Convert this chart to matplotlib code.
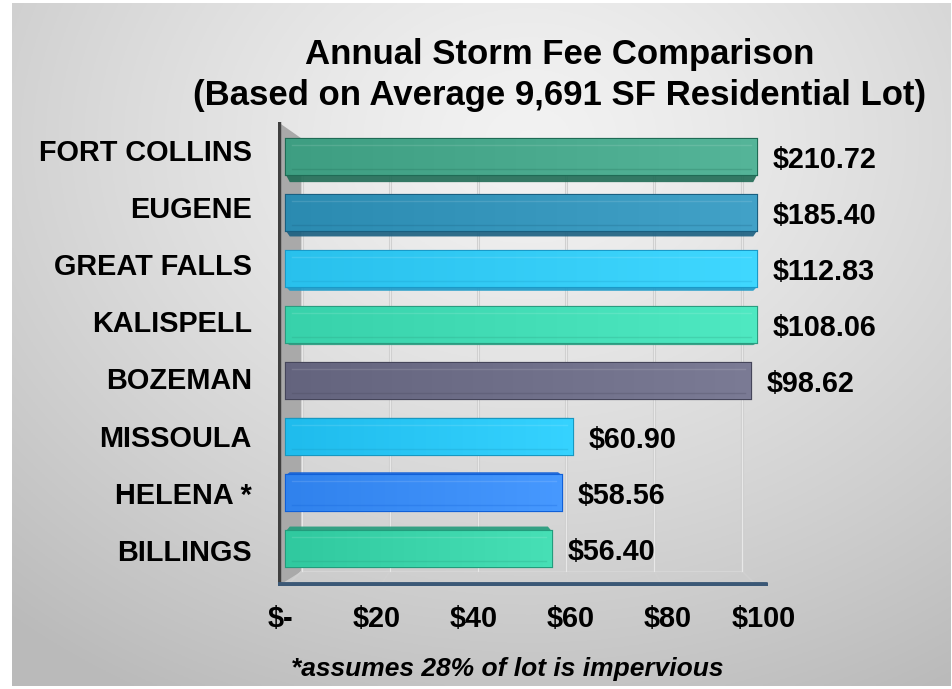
import numpy as np
import matplotlib
matplotlib.use("Agg")
import matplotlib.pyplot as plt
from matplotlib.colors import to_rgb
from matplotlib.patches import Polygon

# ---- data ----
cities = ["FORT COLLINS", "EUGENE", "GREAT FALLS", "KALISPELL", "BOZEMAN",
          "MISSOULA", "HELENA *", "BILLINGS"]
fees = [210.72, 185.40, 112.83, 108.06, 98.62, 60.90, 58.56, 56.40]
fee_labels = ["$210.72", "$185.40", "$112.83", "$108.06", "$98.62",
              "$60.90", "$58.56", "$56.40"]
tick_values = [0, 20, 40, 60, 80, 100]
tick_labels = ["$-", "$20", "$40", "$60", "$80", "$100"]
bar_colors = ["#48a88c", "#3595bb", "#33cbf7", "#42dcb5", "#6e6e88",
              "#29c6f7", "#3a8cf7", "#3ad3a9"]
edge_colors = ["#1f6b55", "#1a5f80", "#1a9ac8", "#2a9c80", "#45455a",
               "#1898c0", "#1060d8", "#239c7c"]
title = "Annual Storm Fee Comparison\n(Based on Average 9,691 SF Residential Lot)"
footnote = "*assumes 28% of lot is impervious"
XMAX = 100

W, H = 953, 689
fig = plt.figure(figsize=(W / 100, H / 100), dpi=100)
fig.patch.set_facecolor("white")

# ---- background gradient panel ----
bg = fig.add_axes([12 / W, 3 / H, (951 - 12) / W, (686 - 3) / H])
bg.set_axis_off()
yy, xx = np.mgrid[0:1:300j, 0:1:400j]
d = np.sqrt(((xx - 0.55) / 1.0) ** 2 + ((yy - 0.2) / 1.1) ** 2)
val = 0.95 - 0.22 * np.clip(d / 0.85, 0, 1) ** 1.3
bg.imshow(np.dstack([val, val, val]), aspect="auto", extent=[0, 1, 1, 0])
bg.set_xlim(0, 1)
bg.set_ylim(1, 0)

# ---- main axes ----
px_per = 4.71
x0px = 286
left_px, right_px = 278, 768
top_px, bot_px = 122, 586
y0px, dy = 157, 56
ax = fig.add_axes([left_px / W, 1 - bot_px / H, (right_px - left_px) / W, (bot_px - top_px) / H])
ax.set_xlim((left_px - x0px) / px_per, (right_px - x0px) / px_per)
ax.set_ylim((bot_px - y0px) / dy, (top_px - y0px) / dy)
ax.set_axis_off()
ax.patch.set_alpha(0)

xl = ax.get_xlim()
yl = ax.get_ylim()
n = len(cities)

# back wall / floor geometry
back_x0 = (302 - x0px) / px_per
back_scale = ((742 - x0px) / px_per - back_x0) / XMAX
back_bottom = (571 - y0px) / dy
wall_top = yl[1]
ax.add_patch(Polygon([[xl[0], wall_top], [xl[0], yl[0]], [back_x0, back_bottom],
                      [back_x0, wall_top + 0.3]], closed=True,
                     facecolor="#a9a9a9", edgecolor="none", zorder=1))
for v in tick_values:
    bx = back_x0 + v * back_scale
    ax.plot([bx, bx], [wall_top + 0.3, back_bottom], color="#cfcfcf", lw=2.2, zorder=1.2)
    ax.plot([bx, bx], [wall_top + 0.3, back_bottom], color="#e8e8e8", lw=0.8, zorder=1.3)
    ax.plot([bx, v], [back_bottom, yl[0]], color="#d0d0d0", lw=1.2, zorder=1.2)
ax.plot([back_x0, back_x0 + XMAX * back_scale], [back_bottom, back_bottom],
        color="#d6d6d6", lw=0.8, zorder=1.2)

ax.plot([xl[0] + 0.3, xl[0] + 0.3], [yl[0], wall_top], color="#3f3f3f", lw=3.2,
        zorder=5, solid_capstyle="butt")
ax.plot([xl[0], XMAX + 2], [yl[0] - 0.03, yl[0] - 0.03], color="#3b5876", lw=3.5,
        zorder=5, solid_capstyle="round")

# ---- bars ----
bh = 0.64
clipped = [min(v, XMAX) for v in fees]
bars = ax.barh(range(n), clipped, height=bh, color=bar_colors,
               edgecolor=edge_colors, linewidth=1.6, zorder=3)
grad = np.linspace(0, 1, 256).reshape(1, -1)
for i, (b, c, ec) in enumerate(zip(bars, bar_colors, edge_colors)):
    base = np.array(to_rgb(c))
    light = np.clip(base + 0.05, 0, 1)
    dark = np.clip(base - 0.04, 0, 1)
    img = dark[None, None, :] * (1 - grad[..., None]) + light[None, None, :] * grad[..., None]
    im = ax.imshow(img, extent=[0, clipped[i], i + bh / 2, i - bh / 2],
                   aspect="auto", zorder=3.1, interpolation="bilinear")
    im.set_clip_path(b)
    t = 0.03 * abs(i - 4.3)
    if i < 4:
        yb = i + bh / 2
        ax.add_patch(Polygon([[0, yb], [clipped[i], yb], [clipped[i] - 0.8, yb + t],
                              [0.8, yb + t]], closed=True, facecolor=ec,
                             edgecolor="none", alpha=0.9, zorder=3.2))
    elif i > 4:
        yt = i - bh / 2
        ax.add_patch(Polygon([[0, yt], [clipped[i], yt], [clipped[i] - 0.8, yt - t],
                              [0.8, yt - t]], closed=True, facecolor=ec,
                             edgecolor="none", alpha=0.9, zorder=3.2))
    ax.plot([1.2, clipped[i] - 1.2], [i - bh / 2 + 0.1, i - bh / 2 + 0.1],
            color="white", alpha=0.12, lw=1, zorder=3.3)
    ax.plot([1.2, clipped[i] - 1.2], [i + bh / 2 - 0.1, i + bh / 2 - 0.1],
            color=ec, alpha=0.25, lw=1, zorder=3.3)
    ax.text(clipped[i] + 3.4, i + 0.06, fee_labels[i], ha="left", va="center",
            fontsize=20.7, fontweight="bold", family="Liberation Sans",
            color="black", zorder=6, clip_on=False)
    label_y = (153 + 57.1 * i - y0px) / dy
    ax.text((252 - x0px) / px_per, label_y, cities[i], ha="right", va="center",
            fontsize=20.8, fontweight="bold", family="Liberation Sans",
            color="black", zorder=6, clip_on=False)

# ---- x tick labels ----
tick_y = (619 - y0px) / dy
for v, lab in zip(tick_values, tick_labels):
    tx = (280 - x0px) / px_per + v * ((764 - 280) / px_per) / XMAX
    ax.text(tx, tick_y, lab, ha="center", va="center", fontsize=20.8,
            fontweight="bold", family="Liberation Sans", clip_on=False)

# ---- title & footnote ----
fig.text(560 / W, 1 - 75 / H, title, ha="center", va="center", fontsize=25,
         fontweight="bold", family="Liberation Sans", linespacing=1.33)
fig.text(507 / W, 1 - 669 / H, footnote, ha="center", va="center", fontsize=19,
         fontweight="bold", style="italic", family="Liberation Sans")

fig.savefig("out.png", dpi=100, facecolor="white")
